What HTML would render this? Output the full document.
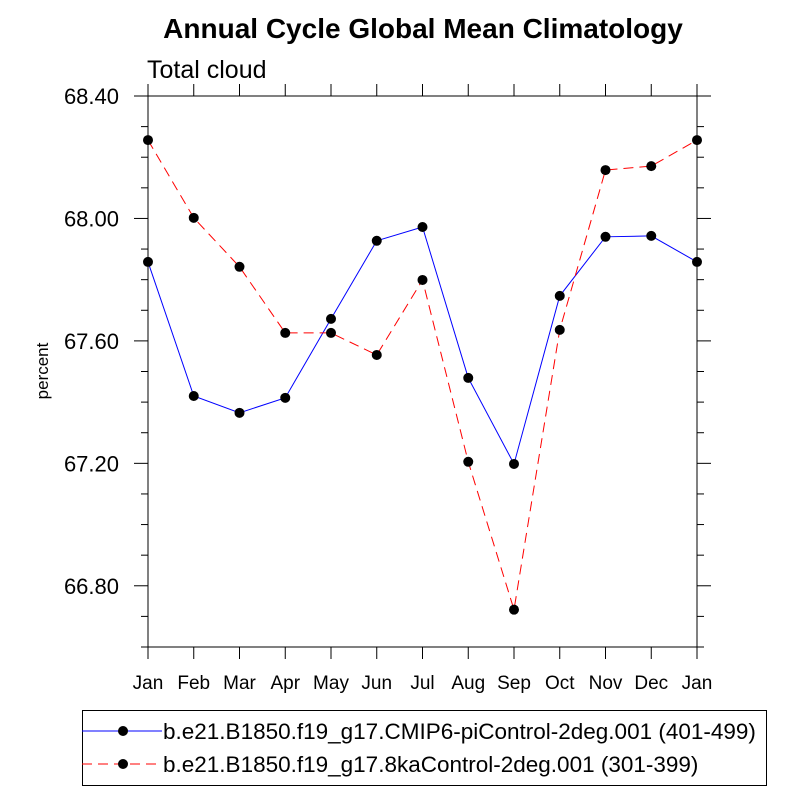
<!DOCTYPE html>
<html><head><meta charset="utf-8"><style>body{margin:0;background:#fff}svg{display:block;font-family:"Liberation Sans",sans-serif}</style></head>
<body>
<svg id="chart" width="800" height="800">
<text x="423" y="38" text-anchor="middle" font-size="28" font-weight="bold">Annual Cycle Global Mean Climatology</text>
<text x="147" y="78" font-size="25">Total cloud</text>
<text x="0" y="0" transform="translate(48,371) rotate(-90)" text-anchor="middle" font-size="17">percent</text>
<g id="axes"></g><g id="series"></g>
<g>
<rect x="82.5" y="710.5" width="684" height="75" fill="none" stroke="#000" stroke-width="1"/>
<g>
<line x1="82" y1="731" x2="162" y2="731" stroke="#00f" stroke-width="1"/><circle cx="123" cy="731" r="5"/>
<text x="163" y="739" font-size="22.5">b.e21.B1850.f19_g17.CMIP6-piControl-2deg.001 (401-499)</text></g>
<g>
<line x1="82" y1="764" x2="162" y2="764" stroke="#f00" stroke-width="1" stroke-dasharray="10,6"/><circle cx="123" cy="764" r="5"/>
<text x="163" y="772" font-size="22.5">b.e21.B1850.f19_g17.8kaControl-2deg.001 (301-399)</text></g>
</g>
</svg>
<script>
const months=["Jan","Feb","Mar","Apr","May","Jun","Jul","Aug","Sep","Oct","Nov","Dec","Jan"];
const piControl=[67.858,67.42,67.365,67.414,67.672,67.927,67.972,67.479,67.198,67.747,67.94,67.943,67.858];
const kaControl=[68.256,68.002,67.842,67.626,67.626,67.554,67.799,67.205,66.722,67.636,68.158,68.171,68.256];
const yTicks=[66.8,67.2,67.6,68.0,68.4];
const L=148,R=697,T=96,B=647,yMin=66.6,yMax=68.4;
const ns="http://www.w3.org/2000/svg";
const xS=i=>L+(R-L)*i/(months.length-1);
const yS=v=>B-(v-yMin)/(yMax-yMin)*(B-T);
function mk(tag,attrs,parent){const e=document.createElementNS(ns,tag);for(const k in attrs)e.setAttribute(k,attrs[k]);parent.appendChild(e);return e;}
const ax=document.getElementById('axes');
const frame=mk('rect',{x:L,y:T,width:R-L,height:B-T,fill:'none',stroke:'#000','stroke-width':1},ax);


months.forEach((m,i)=>{const x=xS(i);
mk('line',{x1:x,y1:B,x2:x,y2:B+12,stroke:'#000'},ax);
mk('line',{x1:x,y1:T,x2:x,y2:T-12,stroke:'#000'},ax);
const t=mk('text',{x:x,y:B+42,'text-anchor':'middle','font-size':19},ax);t.textContent=m;

});
for(let v=yMin;v<=yMax+1e-6;v+=0.1){const y=yS(v);const major=yTicks.some(t=>Math.abs(t-v)<1e-6);const len=major?14:7;
mk('line',{x1:L,y1:y,x2:L-len,y2:y,stroke:'#000'},ax);mk('line',{x1:R,y1:y,x2:R+len,y2:y,stroke:'#000'},ax);}
yTicks.forEach(v=>{const t=mk('text',{x:L-29,y:yS(v)+8,'text-anchor':'end','font-size':22},ax);t.textContent=v.toFixed(2);

});
const sg=document.getElementById('series');
[[piControl,'#00f','none','picontrol'],[kaControl,'#f00','10,6','8kacontrol']].forEach(([d,c,da,n])=>{
const p=mk('polyline',{points:d.map((v,i)=>xS(i)+','+yS(v)).join(' '),fill:'none',stroke:c,'stroke-width':1,'stroke-dasharray':da},sg);


d.forEach((v,i)=>{const ci=mk('circle',{cx:xS(i),cy:yS(v),r:5,fill:'#000'},sg);

});});
</script>
</body></html>
